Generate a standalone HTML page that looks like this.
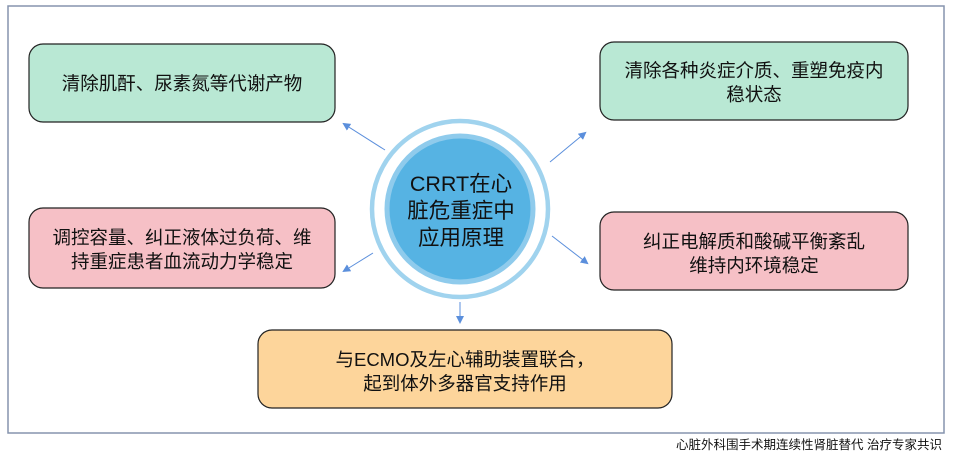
<!DOCTYPE html>
<html><head><meta charset="utf-8"><style>
html,body{margin:0;padding:0;background:#fff;width:957px;height:460px;overflow:hidden}
</style></head><body>
<svg width="957" height="460" xmlns="http://www.w3.org/2000/svg" font-family="Liberation Sans, Noto Sans CJK SC, sans-serif">
<defs><marker id="a" markerWidth="8" markerHeight="8" refX="6" refY="4" orient="auto" markerUnits="userSpaceOnUse"><path d="M0,0 L8,4 L0,8 Z" fill="#5b8fdc"/></marker></defs>
<rect x="8" y="6" width="936" height="427" fill="#fff" stroke="#8594ad" stroke-width="1.5"/>
<rect x="29" y="44" width="306" height="78" rx="14" fill="#b9e8d4" stroke="#222" stroke-width="1.2"/>
<rect x="600" y="42" width="308" height="78" rx="14" fill="#b9e8d4" stroke="#222" stroke-width="1.2"/>
<rect x="29" y="208" width="306" height="80" rx="14" fill="#f6c0c6" stroke="#222" stroke-width="1.2"/>
<rect x="600" y="212" width="308" height="78" rx="14" fill="#f6c0c6" stroke="#222" stroke-width="1.2"/>
<rect x="258" y="330" width="414" height="78" rx="14" fill="#fdd59b" stroke="#222" stroke-width="1.2"/>
<g font-size="18.5" fill="#111" text-anchor="middle">
<text x="182" y="90">清除肌酐、尿素氮等代谢产物</text>
<text x="754" y="77">清除各种炎症介质、重塑免疫内</text>
<text x="754" y="101">稳状态</text>
<text x="182" y="244">调控容量、纠正液体过负荷、维</text>
<text x="182" y="268">持重症患者血流动力学稳定</text>
<text x="754" y="248">纠正电解质和酸碱平衡紊乱</text>
<text x="754" y="272">维持内环境稳定</text>
<text x="465" y="366">与ECMO及左心辅助装置联合，</text>
<text x="465" y="390">起到体外多器官支持作用</text>
</g>
<circle cx="460" cy="209" r="88" fill="#fff" stroke="#a0d3ee" stroke-width="4.5"/>
<circle cx="460" cy="209" r="73" fill="#56b3e3" stroke="#8fcbec" stroke-width="5"/>
<g font-size="21.5" fill="#111" text-anchor="middle">
<text x="461" y="191">CRRT在心</text>
<text x="461" y="218">脏危重症中</text>
<text x="461" y="245">应用原理</text>
</g>
<g stroke="#5b8fdc" stroke-width="1" marker-end="url(#a)">
<line x1="385" y1="150" x2="344" y2="124"/>
<line x1="550" y1="162" x2="585" y2="133"/>
<line x1="373" y1="253" x2="344" y2="271"/>
<line x1="552" y1="236" x2="587" y2="263"/>
<line x1="460" y1="302" x2="460" y2="322"/>
</g>
<text x="942" y="449" font-size="12.5" text-anchor="end" fill="#111">心脏外科围手术期连续性肾脏替代 治疗专家共识</text>
</svg>
</body></html>
